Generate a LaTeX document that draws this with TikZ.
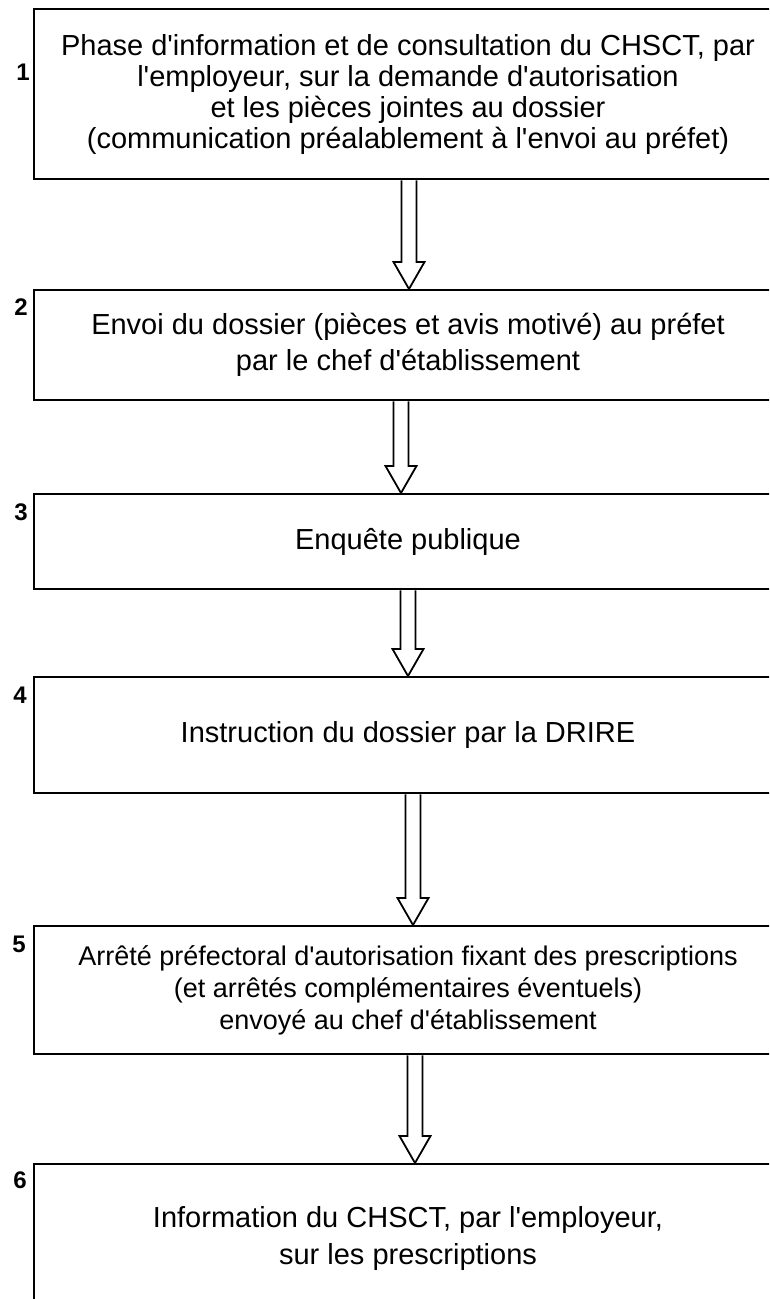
\documentclass[tikz,border=0pt]{standalone}
\usepackage{fontspec}
\setmainfont{Liberation Sans}[Ligatures=TeXOff]
\usepackage{tikz}
\newcommand{\flechecreuse}[3]{%
\draw [fleche] ([xshift=#3-7.5]#1.south) -- ([xshift=#3-7.5,yshift=27]#2.north) -- ([xshift=#3-15.5,yshift=27]#2.north) -- ([xshift=#3]#2.north) -- ([xshift=#3+15.5,yshift=27]#2.north) -- ([xshift=#3+7.5,yshift=27]#2.north) -- ([xshift=#3+7.5]#1.south);}

\begin{document}
\begin{tikzpicture}[x=1pt,y=-1pt,
  boite/.style={draw, line width=2.4pt, minimum width=748, inner sep=0pt, anchor=north, align=center, font=\fontsize{29}{36}\selectfont},
  num/.style={font=\bfseries\fontsize{24}{24}\selectfont},
  fleche/.style={line width=1.8pt, line join=miter}]
\useasboundingbox (0,0) rectangle (769,1299);
\clip (0,0) rectangle (769,1299);
\node [boite, minimum height=170, font=\fontsize{29}{31}\selectfont] (b1) at (408,8) {Phase d'information et de consultation du CHSCT, par\\l'employeur, sur la demande d'autorisation\\et les pièces jointes au dossier\\(communication préalablement à l'envoi au préfet)};
\node [boite, minimum height=110] (b2) at (408,289) {Envoi du dossier (pièces et avis motivé) au préfet\\par le chef d'établissement};
\node [boite, minimum height=95] (b3) at (408,493) {Enquête publique};
\node [boite, minimum height=116] (b4) at (408,676) {Instruction du dossier par la DRIRE};
\node [boite, minimum height=128, font=\fontsize{27}{32}\selectfont] (b5) at (408,925) {Arrêté préfectoral d'autorisation fixant des prescriptions\\(et arrêtés complémentaires éventuels)\\envoyé au chef d'établissement};
\node [boite, minimum height=148, font=\fontsize{29}{37}\selectfont] (b6) at (408,1163) {Information du CHSCT, par l'employeur,\\sur les prescriptions};
\node [num] (n1) at (23,72) {1};
\node [num] (n2) at (21,307) {2};
\node [num] (n3) at (21,512) {3};
\node [num] (n4) at (20,695) {4};
\node [num] (n5) at (19,944) {5};
\node [num] (n6) at (20,1180) {6};
\flechecreuse{b1}{b2}{1}
\flechecreuse{b2}{b3}{-7}
\flechecreuse{b3}{b4}{0}
\flechecreuse{b4}{b5}{5}
\flechecreuse{b5}{b6}{7}
\end{tikzpicture}
\end{document}
